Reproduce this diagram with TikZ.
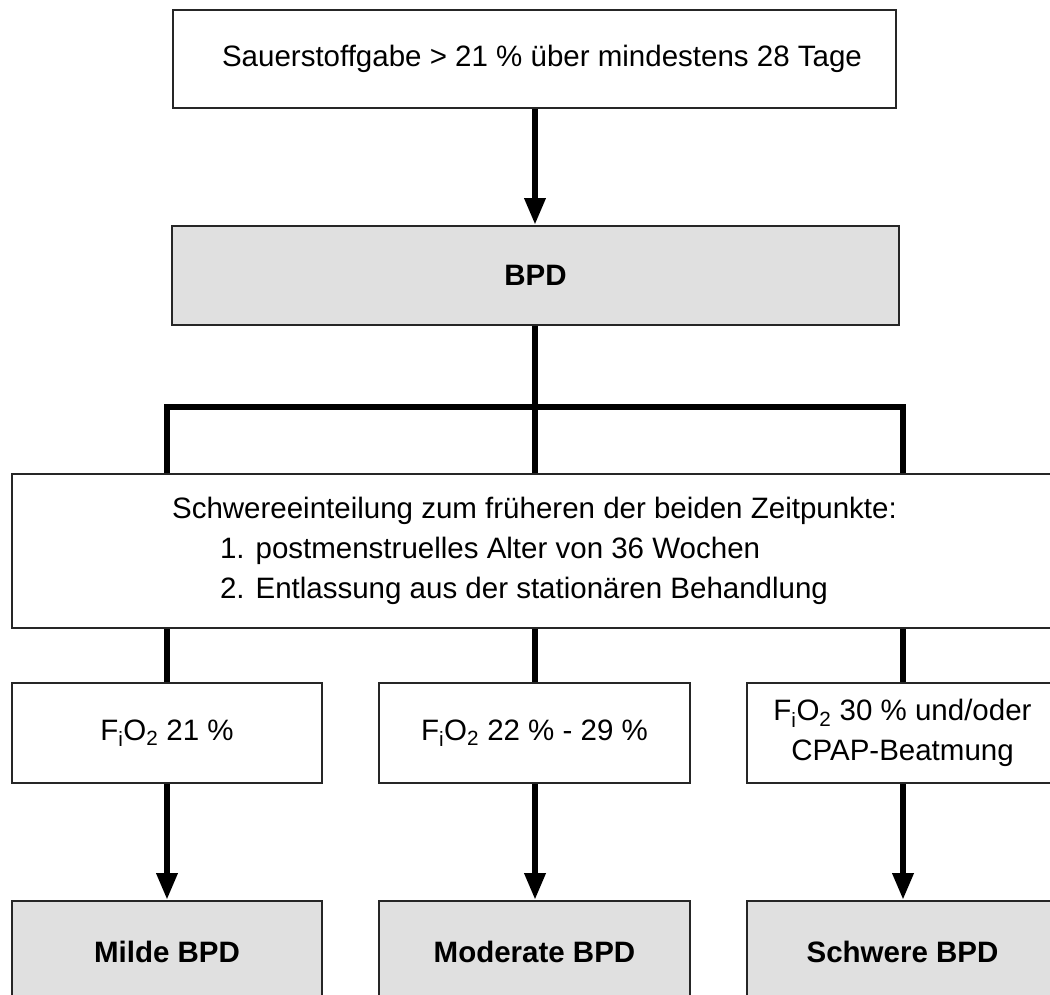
\documentclass[tikz,border=0pt]{standalone}
\usepackage{fontspec}
\setmainfont{Liberation Sans}
\usetikzlibrary{arrows.meta}
\definecolor{boxgray}{HTML}{E0E0E0}
\begin{document}
\begin{tikzpicture}[x=1pt,y=-1pt,
  box/.style={draw=black!85, line width=2pt, inner sep=0pt, fill=white,
    font=\fontsize{29.5}{40}\selectfont, align=center},
  graybox/.style={box, fill=boxgray, font=\fontsize{29.5}{40}\selectfont\bfseries},
  conn/.style={line width=6.5pt, line join=miter},
  arr/.style={conn, -{Triangle[length=27pt,width=20pt]}}]
\clip (0,0) rectangle (1050,994);
\useasboundingbox (0,0) rectangle (1050,994);

\node[box, minimum width=723pt, minimum height=98pt] (top) at (534.5,59)
  {\hspace*{15pt}Sauerstoffgabe > 21 \% über mindestens 28 Tage};
\node[graybox, minimum width=727pt, minimum height=99pt] (bpd) at (535.5,275.5) {BPD};
\node[box, minimum width=1045pt, minimum height=154pt, align=left] (schw) at (534.5,551)
  {Schwereeinteilung zum früheren der beiden Zeitpunkte:\\
   \hspace*{48pt}1. postmenstruelles Alter von 36 Wochen\\
   \hspace*{48pt}2. Entlassung aus der stationären Behandlung};

\node[box, minimum width=310pt, minimum height=100pt] (s1) at (167,733)
  {F\textsubscript{i}O\textsubscript{2} 21 \%};
\node[box, minimum width=311pt, minimum height=100pt] (s2) at (534.5,733)
  {F\textsubscript{i}O\textsubscript{2} 22 \% - 29 \%};
\node[box, minimum width=311pt, minimum height=100pt] (s3) at (902.5,733)
  {F\textsubscript{i}O\textsubscript{2} 30 \% und/oder\\CPAP-Beatmung};

\node[graybox, minimum width=310pt, minimum height=102pt] (b1) at (167,952) {Milde BPD};
\node[graybox, minimum width=311pt, minimum height=102pt] (b2) at (534.5,952) {Moderate BPD};
\node[graybox, minimum width=311pt, minimum height=102pt] (b3) at (902.5,952) {Schwere BPD};

\coordinate (barL) at (167,407);
\coordinate (barM) at (535,407);
\coordinate (barR) at (903,407);

\draw[arr] (top.south -| barM) -- (bpd.north -| barM);
\draw[conn] (bpd.south -| barM) -- (schw.north -| barM);
\draw[conn] (schw.north -| barL) -- (barL) -- (barR) -- (schw.north -| barR);

\draw[conn] (schw.south -| s1) -- (s1.north);
\draw[conn] (schw.south -| barM) -- (s2.north -| barM);
\draw[conn] (schw.south -| barR) -- (s3.north -| barR);

\draw[arr] (s1.south) -- (b1.north);
\draw[arr] (s2.south -| barM) -- (b2.north -| barM);
\draw[arr] (s3.south -| barR) -- (b3.north -| barR);
\end{tikzpicture}
\end{document}
